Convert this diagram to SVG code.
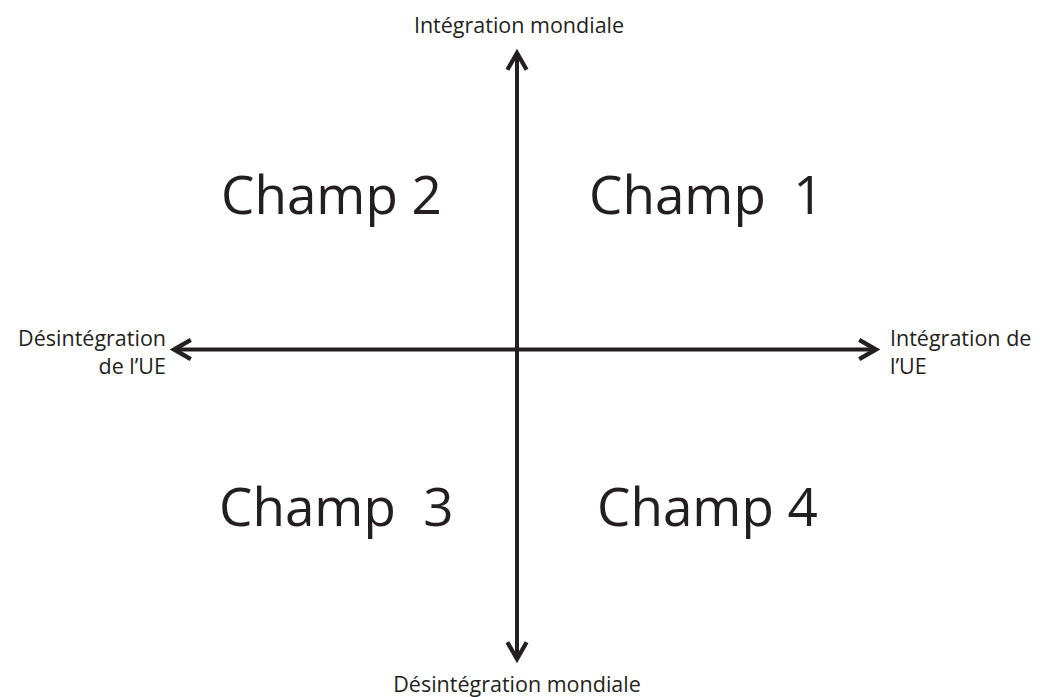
<svg xmlns="http://www.w3.org/2000/svg" width="1040" height="697" viewBox="0 0 1040 697">
  <style>
    .lbl { font-family: "Open Sans", "Noto Sans", sans-serif; font-size: 21.5px; fill: #231f20; }
    .champ { font-family: "Open Sans", "Noto Sans", sans-serif; font-size: 53px; fill: #231f20; white-space: pre; }
    .axis { stroke: #231f20; stroke-width: 4; fill: none; }
  </style>
  <defs>
    <marker id="chev" viewBox="0 0 10 10" refX="8" refY="5" markerWidth="6" markerHeight="6" orient="auto-start-reverse" markerUnits="strokeWidth">
      <path d="M1,1 L8,5 L1,9" fill="none" stroke="#231f20" stroke-width="1.8" stroke-linejoin="miter"/>
    </marker>
  </defs>
  <rect width="1040" height="697" fill="#ffffff"/>

  <g id="connectors">
    <line class="axis" x1="517" y1="53" x2="517" y2="659" marker-start="url(#chev)" marker-end="url(#chev)"/>
    <line class="axis" x1="174" y1="349.5" x2="876" y2="349.5" marker-start="url(#chev)" marker-end="url(#chev)"/>
  </g>

  <g id="axis-top"><text class="lbl" x="519" y="33" text-anchor="middle">Intégration mondiale</text></g>
  <g id="axis-bottom"><text class="lbl" x="517" y="692" text-anchor="middle">Désintégration mondiale</text></g>
  <g id="axis-left">
    <text class="lbl" x="166" y="346" text-anchor="end">Désintégration</text>
    <text class="lbl" x="166" y="374" text-anchor="end">de l’UE</text>
  </g>
  <g id="axis-right">
    <text class="lbl" x="890" y="346">Intégration de</text>
    <text class="lbl" x="890" y="374">l’UE</text>
  </g>

  <g id="champ-2"><text class="champ" x="221" y="214">Champ 2</text></g>
  <g id="champ-1"><text class="champ" x="589" y="214">Champ  1</text></g>
  <g id="champ-3"><text class="champ" x="219" y="526">Champ  3</text></g>
  <g id="champ-4"><text class="champ" x="597" y="526">Champ 4</text></g>
</svg>
